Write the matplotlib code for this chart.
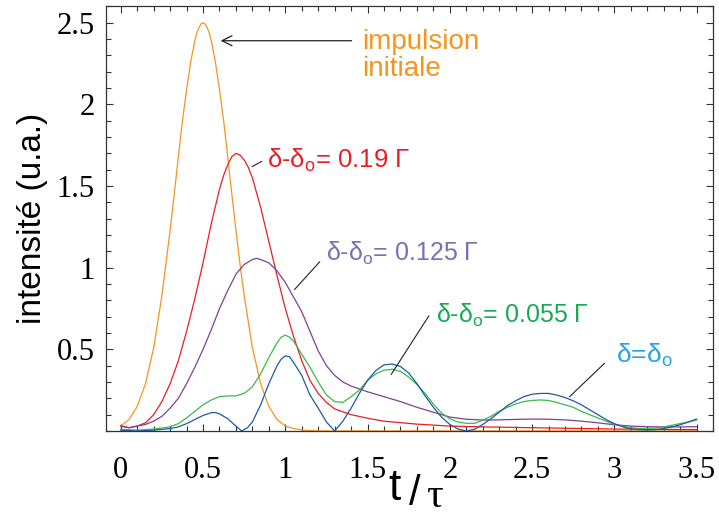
import numpy as np
import matplotlib
matplotlib.use('Agg')
from matplotlib import pyplot as plt
from matplotlib.ticker import MultipleLocator

plt.rcParams['font.family'] = ['Liberation Sans', 'DejaVu Sans']
plt.rcParams['mathtext.fontset'] = 'custom'
plt.rcParams['mathtext.rm'] = 'Liberation Sans'

# impulsion initiale
t_ini = [0, 0.05, 0.1, 0.15, 0.2, 0.25, 0.3, 0.325, 0.35, 0.375, 0.4, 0.425, 0.45, 0.4625, 0.475,
         0.4875, 0.5, 0.5125, 0.525, 0.5375, 0.55, 0.575, 0.6, 0.625, 0.65, 0.675, 0.7, 0.725,
         0.75, 0.8, 0.85, 0.9, 0.95, 1.0, 1.05, 1.1, 1.2, 3.5]
y_ini = [0.03, 0.07, 0.15, 0.29, 0.51, 0.83, 1.23, 1.45, 1.68, 1.90, 2.09, 2.26, 2.39, 2.44, 2.47,
         2.493, 2.50, 2.493, 2.47, 2.44, 2.39, 2.26, 2.09, 1.90, 1.68, 1.45, 1.23, 1.02,
         0.83, 0.51, 0.29, 0.15, 0.07, 0.03, 0.015, 0.006, 0.0, 0.0]

# delta - delta0 = 0.19 Gamma
t_019 = [0, 0.05, 0.1, 0.15, 0.2, 0.25, 0.3, 0.35, 0.4, 0.45, 0.5, 0.55, 0.6, 0.625, 0.65, 0.675,
         0.7, 0.725, 0.75, 0.775, 0.8, 0.85, 0.9, 0.95, 1.0, 1.05, 1.1, 1.15, 1.2, 1.25, 1.3,
         1.4, 1.5, 1.6, 1.8, 2.0, 2.2, 2.5, 3.0, 3.5]
y_019 = [0.03, 0.02, 0.03, 0.05, 0.10, 0.18, 0.29, 0.43, 0.61, 0.81, 1.03, 1.27, 1.48, 1.565,
         1.63, 1.68, 1.70, 1.69, 1.66, 1.615, 1.55, 1.37, 1.16, 0.95, 0.75, 0.58, 0.43, 0.31,
         0.23, 0.175, 0.135, 0.10, 0.078, 0.06, 0.042, 0.030, 0.025, 0.020, 0.012, 0.008]

# delta - delta0 = 0.125 Gamma
t_0125 = [0, 0.05, 0.1, 0.15, 0.2, 0.25, 0.3, 0.35, 0.4, 0.45, 0.5, 0.55, 0.6, 0.65, 0.7, 0.75,
          0.8, 0.825, 0.85, 0.9, 0.95, 1.0, 1.05, 1.1, 1.15, 1.2, 1.25, 1.3, 1.35, 1.4, 1.5,
          1.6, 1.7, 1.8, 1.9, 2.0, 2.1, 2.2, 2.3, 2.4, 2.5, 2.6, 2.7, 2.8, 2.9, 3.0, 3.1, 3.2,
          3.3, 3.4, 3.5]
y_0125 = [0.03, 0.02, 0.03, 0.04, 0.06, 0.09, 0.14, 0.20, 0.29, 0.39, 0.50, 0.62, 0.75, 0.86, 0.96,
          1.02, 1.05, 1.057, 1.05, 1.03, 0.98, 0.91, 0.82, 0.73, 0.61, 0.49, 0.40, 0.34, 0.30,
          0.275, 0.24, 0.21, 0.18, 0.145, 0.115, 0.085, 0.072, 0.067, 0.068, 0.071, 0.073,
          0.072, 0.068, 0.060, 0.050, 0.038, 0.030, 0.026, 0.025, 0.025, 0.026]

# delta - delta0 = 0.055 Gamma
t_0055 = [0, 0.1, 0.2, 0.25, 0.3, 0.35, 0.4, 0.45, 0.5, 0.55, 0.6, 0.65, 0.7, 0.75, 0.8, 0.85,
          0.9, 0.95, 0.975, 1.0, 1.025, 1.05, 1.1, 1.15, 1.2, 1.25, 1.3, 1.35, 1.4, 1.45, 1.5,
          1.55, 1.6, 1.65, 1.7, 1.75, 1.8, 1.85, 1.9, 1.95, 2.0, 2.05, 2.1, 2.15, 2.2, 2.25,
          2.3, 2.35, 2.4, 2.45, 2.5, 2.55, 2.6, 2.65, 2.7, 2.75, 2.8, 2.85, 2.9, 2.95, 3.0,
          3.05, 3.1, 3.15, 3.2, 3.25, 3.3, 3.35, 3.4, 3.45, 3.5]
y_0055 = [0.01, 0.005, 0.012, 0.018, 0.026, 0.045, 0.08, 0.12, 0.16, 0.19, 0.21, 0.215, 0.215,
          0.23, 0.27, 0.35, 0.45, 0.54, 0.575, 0.587, 0.575, 0.55, 0.47, 0.39, 0.30, 0.22, 0.18,
          0.175, 0.21, 0.25, 0.31, 0.35, 0.372, 0.378, 0.365, 0.33, 0.285, 0.23, 0.165, 0.11,
          0.075, 0.055, 0.047, 0.047, 0.065, 0.09, 0.12, 0.145, 0.165, 0.18, 0.187, 0.19,
          0.187, 0.175, 0.16, 0.145, 0.12, 0.10, 0.08, 0.06, 0.04, 0.03, 0.02, 0.016, 0.015,
          0.018, 0.025, 0.035, 0.045, 0.055, 0.067]

# delta = delta0
t_0 = [0, 0.1, 0.2, 0.25, 0.3, 0.35, 0.4, 0.45, 0.5, 0.55, 0.575, 0.6, 0.65, 0.7, 0.735, 0.77,
       0.8, 0.85, 0.9, 0.95, 0.975, 1.0, 1.025, 1.05, 1.1, 1.15, 1.2, 1.25, 1.3, 1.35, 1.4,
       1.45, 1.5, 1.55, 1.6, 1.65, 1.7, 1.75, 1.8, 1.85, 1.9, 1.95, 2.0, 2.05, 2.1, 2.15, 2.2,
       2.25, 2.3, 2.35, 2.4, 2.45, 2.5, 2.55, 2.6, 2.65, 2.7, 2.75, 2.8, 2.85, 2.9, 2.95, 3.0,
       3.05, 3.1, 3.15, 3.2, 3.25, 3.3, 3.35, 3.4, 3.45, 3.5]
y_0 = [0.005, 0.0, 0.005, 0.01, 0.015, 0.025, 0.045, 0.07, 0.095, 0.112, 0.113, 0.105, 0.075,
       0.03, 0.0, 0.02, 0.055, 0.16, 0.29, 0.40, 0.44, 0.46, 0.455, 0.42, 0.34, 0.22, 0.14,
       0.055, 0.0, 0.06, 0.14, 0.23, 0.31, 0.37, 0.405, 0.41, 0.395, 0.355, 0.29, 0.215, 0.145,
       0.085, 0.04, 0.012, 0.0, 0.01, 0.04, 0.075, 0.115, 0.155, 0.185, 0.21, 0.225, 0.23,
       0.23, 0.22, 0.205, 0.185, 0.16, 0.13, 0.10, 0.07, 0.045, 0.026, 0.012, 0.008, 0.006,
       0.008, 0.015, 0.025, 0.038, 0.055, 0.073]

xticks = [0, 0.5, 1, 1.5, 2, 2.5, 3, 3.5]
xticklabels = ['0', '0.5', '1', '1.5', '2', '2.5', '3', '3.5']
yticks = [0.5, 1, 1.5, 2, 2.5]
yticklabels = ['0.5', '1', '1.5', '2', '2.5']

fig = plt.figure(figsize=(7.19, 5.19), dpi=100)
ax = fig.add_axes([0.1474, 0.1696, 0.8443, 0.818])

lw = 0.9
ax.plot(t_ini, y_ini, color='#f7941d', lw=lw)
ax.plot(t_019, y_019, color='#ed1c24', lw=lw)
ax.plot(t_0125, y_0125, color='#7f3f98', lw=lw)
ax.plot(t_0055, y_0055, color='#3cb84a', lw=lw)
ax.plot(t_0, y_0, color='#1c5aa8', lw=lw)

ax.set_xlim(-0.09, 3.6)
ax.set_ylim(0, 2.6)
ax.set_xticks(xticks)
ax.set_xticklabels(xticklabels, family='Liberation Serif', fontsize=22)
ax.set_yticks(yticks)
ax.set_yticklabels(yticklabels, family='Liberation Serif', fontsize=22)
ax.xaxis.set_minor_locator(MultipleLocator(0.1))
ax.yaxis.set_minor_locator(MultipleLocator(0.1))
ax.tick_params(which='both', direction='in', top=True, right=True, color='#333333', width=0.8)
ax.tick_params(which='major', length=5)
ax.tick_params(which='minor', length=3.5)
ax.tick_params(axis='x', pad=18)
ax.tick_params(axis='y', pad=8)
for s in ax.spines.values():
    s.set_linewidth(0.9)
    s.set_color('#333333')

ax.set_ylabel('intensité (u.a.)', fontsize=24, labelpad=6)

# x label "t/tau" in pieces
fig.text(395 / 719, 1 - 488 / 519, 't', fontsize=32, ha='center', va='center')
fig.text(415 / 719, 1 - 494 / 519, '/', fontsize=30, ha='center', va='center')
fig.text(434 / 719, 1 - 497 / 519, 'τ', fontsize=30, ha='center', va='center',
         family='Liberation Serif')

fs = 18
ax.annotate('', xy=(0.59, 2.39), xytext=(1.42, 2.39),
            arrowprops=dict(arrowstyle='->', color='#222222', lw=0.9, mutation_scale=18))
ax.text(1.464, 2.30, 'impulsion\ninitiale', color='#f7941d', fontsize=20,
        ha='left', va='center', linespacing=1.05)

ax.plot([0.80, 0.855], [1.62, 1.65], color='#222222', lw=0.8)
ax.text(0.887, 1.66, r'δ-δ$_\mathrm{o}$= 0.19 Γ', color='#ed1c24', fontsize=fs + 0.5,
        ha='left', va='center')

ax.plot([1.057, 1.209], [0.867, 1.036], color='#222222', lw=0.8)
ax.text(1.25, 1.09, r'δ-δ$_\mathrm{o}$= 0.125 Γ', color='#7a6fb5', fontsize=fs,
        ha='left', va='center')

ax.plot([1.644, 1.872], [0.347, 0.704], color='#222222', lw=0.8)
ax.text(1.917, 0.71, r'δ-δ$_\mathrm{o}$= 0.055 Γ', color='#1aaa55', fontsize=fs,
        ha='left', va='center')

ax.plot([2.728, 2.94], [0.21, 0.414], color='#222222', lw=0.8)
ax.text(3.01, 0.465, r'δ=δ$_\mathrm{o}$', color='#27a4e0', fontsize=fs + 1,
        ha='left', va='center')

plt.savefig('out.png', dpi=100)
